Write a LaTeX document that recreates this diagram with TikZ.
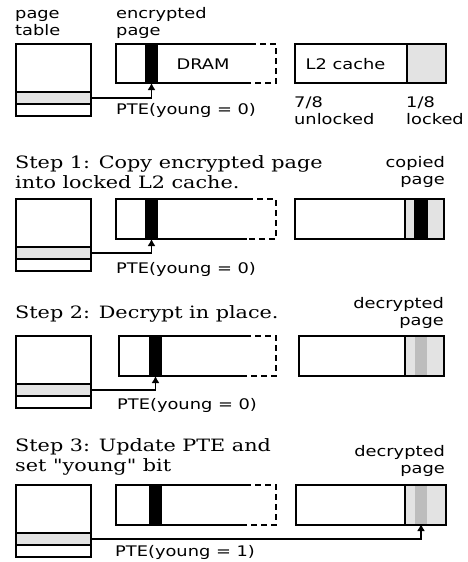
\documentclass[tikz,border=0pt]{standalone}
\usepackage{fontspec}
\newfontfamily\lblfont[FakeStretch=1.22]{DejaVu Sans}
\newfontfamily\stepfont[FakeStretch=1.22]{DejaVu Serif}
\definecolor{pt_row}{RGB}{227, 227, 227}
\definecolor{dec_page}{RGB}{189, 189, 189}
\usepackage{tikz}
\usetikzlibrary{arrows.meta, positioning}

\begin{document}
\begin{tikzpicture}[x=1pt, y=-1pt,
        box/.style={draw, line width=2pt, inner sep=0pt, outer sep=0pt},
        ptbox/.style={box, minimum width=75pt},
        ptrow/.style={ptbox, fill=pt_row, minimum height=11.5pt},
        strip/.style={inner sep=0pt, outer sep=0pt},
        wall/.style={line width=2pt},
        gap/.style={line width=2pt, dash pattern=on 6pt off 4pt},
        ptr/.style={-{Latex[length=7pt, width=8pt]}, line width=1.7pt},
        lbl/.style={font=\lblfont\fontsize{14.6}{17}\selectfont, align=left, inner sep=0pt},
        stp/.style={font=\stepfont\fontsize{17}{20}\selectfont, align=left, inner sep=0pt, anchor=west},
      ]
        \useasboundingbox (0,0) rectangle (467,562);

        % ---- initial state
        \node[lbl, anchor=west] (ptlbl) at (15,23.5) {page\\table};
        \node[lbl, anchor=west] (enclbl) at (116,23) {encrypted\\page};
        \node[ptbox, minimum height=48pt] (tab0) at (53.5,68) {};
        \node[ptrow, below=0pt of tab0] (pte0) {};
        \node[ptbox, minimum height=12.5pt, below=0pt of pte0] (rest0) {};
        \node[strip, minimum width=160pt, minimum height=39pt] (dram0) at (196,63.5) {};
        \node[strip, fill=black, minimum width=13pt, minimum height=39pt] (enc0) at (151.5,63.5) {};
        \draw[wall] ([xshift=-26pt]dram0.north east) -- (dram0.north west)
          -- (dram0.south west) -- ([xshift=-26pt]dram0.south east);
        \draw[gap] ([xshift=-26pt]dram0.north east) -- (dram0.north east)
          -- (dram0.south east) -- ([xshift=-26pt]dram0.south east);
        \node[lbl] (dramlbl) at (203,64) {DRAM};
        \node[box, minimum width=112pt, minimum height=39pt] (l2_0) at (351,63.5) {};
        \node[box, fill=pt_row, minimum width=39pt, minimum height=39pt, right=0pt of l2_0] (lock0) {};
        \node[lbl] (l2lbl) at (345.5,64) {L2 cache};
        \node[lbl, anchor=west] (unlbl) at (294,111) {7/8\\unlocked};
        \node[lbl, anchor=west] (lklbl) at (406,111) {1/8\\locked};
        \node[lbl, anchor=west] (ptelbl0) at (116,110) {PTE(young = 0)};
        \draw[ptr] (pte0.east) -| (enc0.south);

        % ---- step 1
        \node[stp] (step1) at (15,172) {Step 1: Copy encrypted page\\into locked L2 cache.};
        \node[lbl, anchor=east, align=right] (cplbl) at (445,172) {copied\\page};
        \node[ptbox, minimum height=48pt] (tab1) at (53.5,223) {};
        \node[ptrow, below=0pt of tab1] (pte1) {};
        \node[ptbox, minimum height=12.5pt, below=0pt of pte1] (rest1) {};
        \node[strip, minimum width=160pt, minimum height=40pt] (dram1) at (196,219) {};
        \node[strip, fill=black, minimum width=13pt, minimum height=40pt] (enc1) at (151.5,219) {};
        \draw[wall] ([xshift=-29pt]dram1.north east) -- (dram1.north west)
          -- (dram1.south west) -- ([xshift=-29pt]dram1.south east);
        \draw[gap] ([xshift=-29pt]dram1.north east) -- (dram1.north east)
          -- (dram1.south east) -- ([xshift=-29pt]dram1.south east);
        \node[box, minimum width=110pt, minimum height=40pt] (l2_1) at (350,219) {};
        \node[box, fill=pt_row, minimum width=39pt, minimum height=40pt, right=0pt of l2_1] (lock1) {};
        \node[strip, fill=black, minimum width=14pt, minimum height=38pt] (cp1) at (421,219) {};
        \node[lbl, anchor=west] (ptelbl1) at (116,269) {PTE(young = 0)};
        \draw[ptr] (pte1.east) -| (enc1.south);

        % ---- step 2
        \node[stp] (step2) at (15,314) {Step 2: Decrypt in place.};
        \node[lbl, anchor=east, align=right] (declbl2) at (444,313) {decrypted\\page};
        \node[ptbox, minimum height=48pt] (tab2) at (53.5,360) {};
        \node[ptrow, below=0pt of tab2] (pte2) {};
        \node[ptbox, minimum height=12.5pt, below=0pt of pte2] (rest2) {};
        \node[strip, minimum width=157pt, minimum height=40pt] (dram2) at (197.5,356) {};
        \node[strip, fill=black, minimum width=13pt, minimum height=40pt] (enc2) at (155.5,356) {};
        \draw[wall] ([xshift=-31pt]dram2.north east) -- (dram2.north west)
          -- (dram2.south west) -- ([xshift=-31pt]dram2.south east);
        \draw[gap] ([xshift=-31pt]dram2.north east) -- (dram2.north east)
          -- (dram2.south east) -- ([xshift=-31pt]dram2.south east);
        \node[box, minimum width=106pt, minimum height=40pt] (l2_2) at (352,356) {};
        \node[box, fill=pt_row, minimum width=39pt, minimum height=40pt, right=0pt of l2_2] (lock2) {};
        \node[strip, fill=dec_page, minimum width=12pt, minimum height=38pt] (dec2) at (421,356) {};
        \node[lbl, anchor=west] (ptelbl2) at (117,405) {PTE(young = 0)};
        \draw[ptr] (pte2.east) -| (enc2.south);

        % ---- step 3
        \node[stp] (step3) at (15,456.5) {Step 3: Update PTE and\\set "young" bit};
        \node[lbl, anchor=east, align=right] (declbl3) at (445,460.5) {decrypted\\page};
        \node[ptbox, minimum height=48pt] (tab3) at (53.5,509) {};
        \node[ptrow, below=0pt of tab3] (pte3) {};
        \node[ptbox, minimum height=12.5pt, below=0pt of pte3] (rest3) {};
        \node[strip, minimum width=160pt, minimum height=40pt] (dram3) at (196,505) {};
        \node[strip, fill=black, minimum width=13pt, minimum height=40pt] (enc3) at (155.5,505) {};
        \draw[wall] ([xshift=-31pt]dram3.north east) -- (dram3.north west)
          -- (dram3.south west) -- ([xshift=-31pt]dram3.south east);
        \draw[gap] ([xshift=-31pt]dram3.north east) -- (dram3.north east)
          -- (dram3.south east) -- ([xshift=-31pt]dram3.south east);
        \node[box, minimum width=109pt, minimum height=40pt] (l2_3) at (350.5,505) {};
        \node[box, fill=pt_row, minimum width=41pt, minimum height=40pt, right=0pt of l2_3] (lock3) {};
        \node[strip, fill=dec_page, minimum width=12pt, minimum height=38pt] (dec3) at (421,505) {};
        \node[lbl, anchor=west] (ptelbl3) at (115,552) {PTE(young = 1)};
        \draw[ptr] (pte3.east) -| (dec3.south);
      \end{tikzpicture}
\end{document}
